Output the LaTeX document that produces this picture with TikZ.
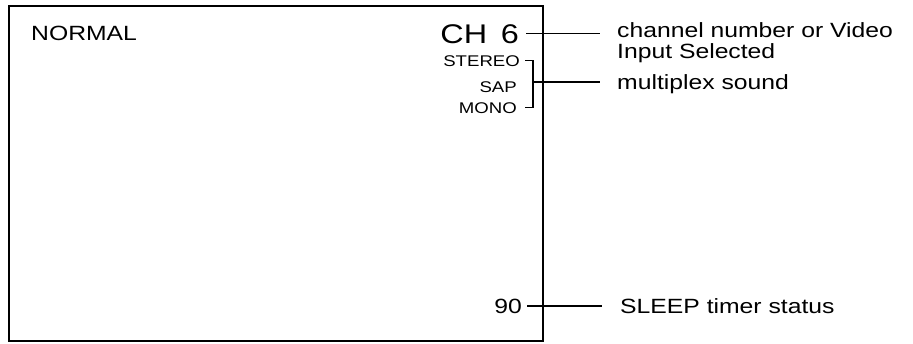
\documentclass[tikz,border=0pt]{standalone}
\usepackage{fontspec}
\setmainfont{Liberation Sans}[FakeStretch=1.2]
\usetikzlibrary{positioning}
\tikzset{
  screen/.style  = {draw, line width=1.5pt},
  scrtxt/.style  = {inner sep=0pt, font=\fontsize{20.6}{21.5}\selectfont},
  smtxt/.style   = {inner sep=0pt, anchor=base east,
                    font=\fontsize{15.5}{16}\selectfont},
  lead/.style    = {line width=1.4pt, black}
}

\begin{document}
\begin{tikzpicture}[x=1pt,y=-1pt]
  \useasboundingbox (0,0) rectangle (913,343);
  \draw[screen] (9,6) rectangle (543,341);
  % on-screen display
  \node[scrtxt,anchor=base west] (mode) at (31,40) {NORMAL};
  \node[scrtxt,anchor=base east,font=\fontsize{27}{28}\selectfont]
       (ch) at (519,43) {CH\hspace{0.5em}6};
  \node[smtxt] (st)   at (520,66)  {STEREO};
  \node[smtxt] (sap)  at (517,92)  {SAP};
  \node[smtxt] (mono) at (517,113) {MONO};
  \node[scrtxt,anchor=base east] (slp) at (522,313) {90};
  % callouts
  \node[scrtxt,anchor=north west,align=left] (chlbl) at (617,22)
       {channel number or Video\\Input Selected};
  \node[scrtxt,anchor=base west] (mpxlbl) at (617,89) {multiplex sound};
  \node[scrtxt,anchor=base west] (slplbl) at (620,313) {SLEEP timer status};
  \coordinate (brk) at (533,82);
  \draw[lead,shorten <=7pt,shorten >=17pt] (ch.east) -- (chlbl.west |- ch.east);
  \draw[lead] ([xshift=5pt]st.east) -| (brk) |- ([xshift=8pt]mono.east);
  \draw[lead,shorten >=17pt] (brk) -- (mpxlbl.west |- brk);
  \draw[lead,shorten <=5pt,shorten >=18pt] (slp.east) -- (slplbl.west |- slp.east);
\end{tikzpicture}
\end{document}
